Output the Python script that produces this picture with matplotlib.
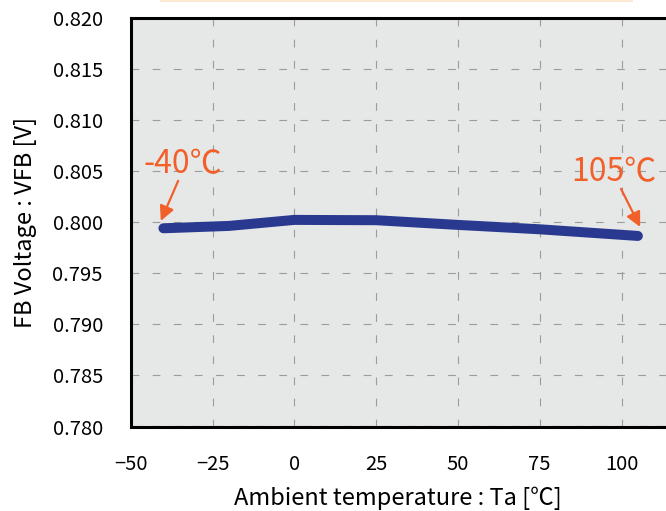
import matplotlib
matplotlib.use("Agg")
import matplotlib.pyplot as plt
from matplotlib.patches import Rectangle

plt.rcParams['font.family'] = ['Noto Sans CJK JP', 'DejaVu Sans']

# Data
temps = [-40, -20, 0, 25, 50, 75, 105]
vfb = [0.79941, 0.79964, 0.80023, 0.80020, 0.79974, 0.79931, 0.79866]
xticks = [-50, -25, 0, 25, 50, 75, 100]
yticks = [0.780, 0.785, 0.790, 0.795, 0.800, 0.805, 0.810, 0.815, 0.820]
ytick_labels = ["0.780", "0.785", "0.790", "0.795", "0.800", "0.805", "0.810", "0.815", "0.820"]
xlabel = "Ambient temperature : Ta [℃]"
ylabel = "FB Voltage : VFB [V]"
ann_low = "-40℃"
ann_high = "105℃"

line_color = "#2A3990"
orange = "#F2602A"
bg = "#E6E7E7"

fig = plt.figure(figsize=(6.66, 5.11), dpi=100)
fig.patches.append(Rectangle((160/666, 1 - 1.6/511), (633-160)/666, 1.6/511,
                             transform=fig.transFigure, facecolor="#FDE8D4",
                             edgecolor="none"))
ax = fig.add_axes([130.7/666, 1 - 426.5/511, 1 - 130.7/666, (426.5 - 18)/511])
ax.set_facecolor(bg)

ax.plot(temps, vfb, color=line_color, lw=7.2, solid_capstyle='round',
        solid_joinstyle='round', zorder=3)

ax.set_xlim(-50, 113.6)
ax.set_ylim(0.780, 0.820)
ax.set_xticks(xticks)
ax.set_yticks(yticks)
ax.set_yticklabels(ytick_labels)
ax.tick_params(length=0, labelsize=14.5, pad=20)
ax.tick_params(axis='x', pad=20)

ax.grid(True, color="#9C9C9C", lw=0.8, linestyle=(0, (7, 12)))
ax.set_axisbelow(True)

for s in ['left', 'top', 'bottom']:
    ax.spines[s].set_linewidth(2.2)
    ax.spines[s].set_color('black')
ax.spines['right'].set_visible(False)

ax.set_xlabel(xlabel, fontsize=17, labelpad=8)
ax.set_ylabel(ylabel, fontsize=17, labelpad=11)

ax.annotate('', xy=(-40.8, 0.80013), xytext=(-35.5, 0.80405),
            arrowprops=dict(arrowstyle='-|>', color=orange, lw=1.6,
                            mutation_scale=22, shrinkA=0, shrinkB=0), zorder=4)
ax.annotate('', xy=(105.7, 0.79954), xytext=(99.85, 0.80327),
            arrowprops=dict(arrowstyle='-|>', color=orange, lw=1.6,
                            mutation_scale=22, shrinkA=0, shrinkB=0), zorder=4)
ax.text(-34.0, 0.80571, ann_low, color=orange, fontsize=23, ha='center', va='center')
ax.text(97.7, 0.80491, ann_high, color=orange, fontsize=23, ha='center', va='center')

fig.savefig("out.png", dpi=100)
